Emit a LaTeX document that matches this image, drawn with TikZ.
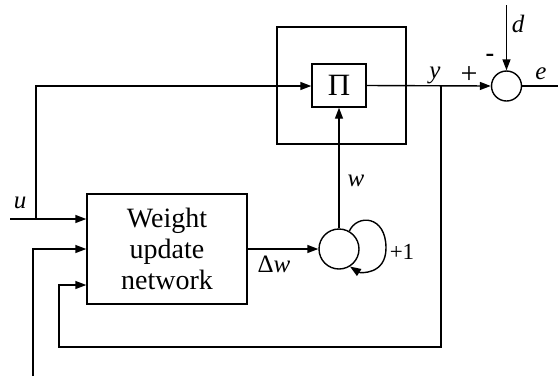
\documentclass[tikz,border=0pt]{standalone}
\usepackage{fontspec}
\setmainfont{Liberation Serif}
\usetikzlibrary{arrows.meta}
\begin{document}
\begin{tikzpicture}[x=1pt,y=-1pt,
  line width=1.4pt,
  arr/.style={-{Triangle[length=11pt,width=8pt]}},
  lbl/.style={inner sep=0pt,font=\fontsize{25}{28}\selectfont},
  blk/.style={draw,line width=1.4pt,inner sep=0pt}]
\useasboundingbox (0,0) rectangle (560,376);
% blocks
\node[blk,minimum width=129pt,minimum height=117pt] (outer) at (341.5,85.5) {};
\node[blk,minimum width=54pt,minimum height=43pt,font=\fontsize{31}{33}\selectfont] (pi) at (339,85.5) {Π};
\node[blk,minimum width=160pt,minimum height=110pt,align=center,
  font=\fontsize{28}{31}\selectfont] (wun) at (167,249) {Weight\\update\\network};
\node[draw,circle,line width=1.4pt,minimum size=40pt,inner sep=0pt] (acc) at (339,249) {};
\node[draw,circle,line width=1.4pt,minimum size=30pt,inner sep=0pt] (sum) at (506.5,86) {};
% coordinates
\coordinate (uin) at (10,219);
\coordinate (ubr) at (36,219);
\coordinate (ucorner) at (36,86);
\coordinate (yj) at (441,86);
\coordinate (fbA) at (441,347);
\coordinate (fbB) at (59,347);
\coordinate (fbC) at (59,285);
\coordinate (in2a) at (33,376);
\coordinate (in2b) at (33,249);
\coordinate (dtop) at (506.5,5);
\coordinate (eout) at (558,86);
% connectors
\draw[arr] (uin) -- (uin -| wun.west);
\draw[arr] (ubr) -- (ucorner) -- (ucorner -| pi.west);
\draw[arr] (in2a) -- (in2b) -- (in2b -| wun.west);
\draw[arr] (yj) -- (fbA) -- (fbB) -- (fbC) -- (fbC -| wun.west);
\draw[arr] (pi.east) -- (sum.west);
\draw[arr] (dtop) -- (sum.north);
\draw (sum.east) -- (eout);
\draw[arr] (wun.east |- acc.west) -- (acc.west);
\draw[arr] (acc.north) -- (pi.south);
\draw[arr] (acc.60) .. controls (357,214) and (386,215) .. (386,248)
  .. controls (386,275) and (360,273) .. (acc.-58);
% labels
\node[lbl] (lu) at (20,203) {\itshape u};
\node[lbl] (lw) at (356,181) {\itshape w};
\node[lbl] (ldw) at (274,264) {Δ\itshape w};
\node[lbl,font=\fontsize{23}{26}\selectfont] (lp1) at (402,252) {+1};
\node[lbl] (ly) at (435,75) {\itshape y};
\node[lbl,font=\fontsize{30}{32}\selectfont] (lplus) at (469,75) {+};
\node[lbl,font=\fontsize{26}{28}\bfseries\selectfont] (lminus) at (490,58) {-};
\node[lbl] (ld) at (518,24) {\itshape d};
\node[lbl] (le) at (541,74) {\itshape e};
\end{tikzpicture}
\end{document}
